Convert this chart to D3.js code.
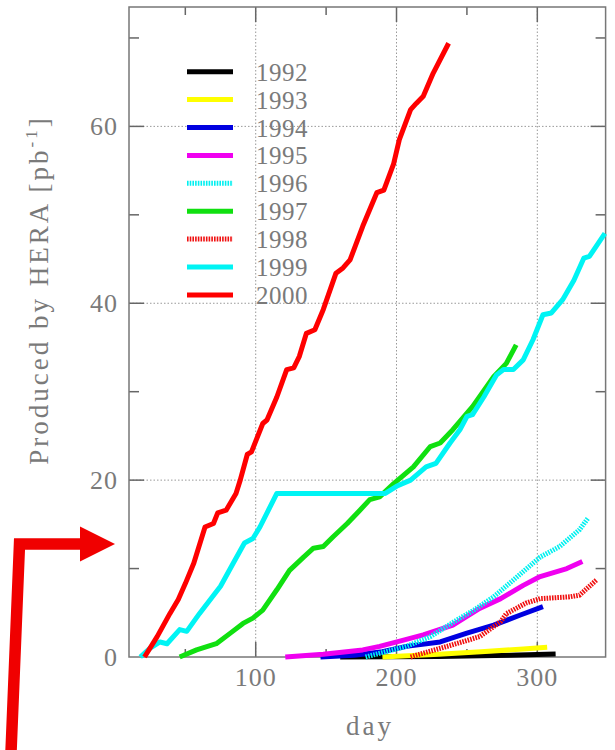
<!DOCTYPE html>
<html lang="en">
<head>
    <meta charset="UTF-8">
    <title>HERA luminosity per year</title>
    <style>
        body {
            margin: 0;
            padding: 0;
            background: #fff;
        }
        svg text {
            font-family: "Liberation Serif", "DejaVu Serif", serif;
            fill: #7a7a7a;
        }
        .grid line {
            stroke: #999;
            stroke-width: 1;
            stroke-dasharray: 1.5, 2;
        }
        .frame {
            fill: none;
            stroke: #777;
            stroke-width: 1.5;
        }
        .tick-mark {
            stroke: #666;
            stroke-width: 1.5;
        }
        .series {
            fill: none;
            stroke-width: 5;
            stroke-linejoin: round;
            stroke-linecap: butt;
        }
    </style>
</head>
<body>
<svg id="chart" width="615" height="750"></svg>

<script src="https://d3js.org/d3.v7.min.js"></script>
<script>
    // integrated luminosity [pb^-1] vs day of year
    var years = ["1992", "1993", "1994", "1995", "1996", "1997", "1998", "1999", "2000"];

    var data1992 = [[160, 0], [230, 0.05], [280, 0.2], [313, 0.35]];
    var data1993 = [[190, 0], [230, 0.3], [260, 0.6], [290, 0.9], [307, 1.1]];
    var data1994 = [[146, 0], [170, 0.2], [190, 0.6], [207, 1.2], [231, 1.7], [250, 2.7], [269, 3.6], [288, 4.75], [304, 5.7]];
    var data1995 = [[121, 0], [148, 0.3], [176, 0.8], [188, 1.2], [205, 1.9], [219, 2.5], [240, 3.6], [259, 5.5],
        [274, 6.6], [290, 8.1], [302, 9.1], [321, 10.0], [332, 10.8]];
    var data1996 = [[178, 0], [190, 0.5], [207, 1.2], [224, 2.3], [243, 4.2], [255, 5.3], [269, 6.8], [283, 8.7],
        [302, 11.3], [316, 12.5], [330, 14.4], [336, 15.7]];
    var data1997 = [[46, 0], [58, 0.8], [72, 1.5], [82, 2.7], [91, 3.8], [98, 4.4], [105, 5.3], [115, 7.6], [124, 9.8],
        [134, 11.3], [141, 12.3], [148, 12.5], [155, 13.6], [165, 15.1], [174, 16.6], [181, 17.8], [188, 18.1],
        [198, 19.6], [212, 21.5], [224, 23.8], [231, 24.2], [240, 25.7], [254, 28.3], [269, 31.7], [278, 33.2], [285, 35.3]];
    var data1998 = [[210, 0], [214, 0.2], [236, 1.2], [259, 2.3], [274, 4.0], [278, 4.9], [292, 6.1], [302, 6.6],
        [323, 6.8], [330, 7.0], [342, 8.7]];
    var data1999 = [[18, 0], [25, 1.0], [32, 1.7], [37, 1.5], [46, 3.1], [51, 2.9], [60, 4.9], [75, 8.0], [84, 10.6],
        [92, 12.9], [98, 13.4], [103, 14.7], [115, 18.5], [192, 18.5], [200, 19.3], [210, 20.0], [221, 21.5],
        [228, 21.9], [238, 24.2], [245, 25.7], [250, 27.2], [254, 27.4], [262, 29.4], [271, 31.9], [276, 32.5],
        [283, 32.5], [290, 33.6], [297, 35.9], [304, 38.7], [310, 38.9], [318, 40.4], [326, 42.6], [333, 45.1],
        [337, 45.3], [348, 47.9]];
    var data2000 = [[21, 0], [30, 2.3], [39, 4.9], [45, 6.5], [50, 8.3], [56, 10.6], [64, 14.7], [70, 15.1], [73, 16.3],
        [79, 16.6], [86, 18.5], [89, 20.0], [94, 22.9], [97, 23.2], [105, 26.4], [108, 26.8], [115, 29.4], [122, 32.5],
        [127, 32.7], [131, 34.0], [136, 36.6], [142, 37.0], [148, 39.3], [157, 43.4], [162, 44.0], [167, 44.9],
        [176, 48.7], [186, 52.5], [191, 52.8], [198, 55.8], [202, 58.5], [210, 61.9], [214, 62.6], [219, 63.4],
        [226, 66.0], [237, 69.4]];

    var seriesData = [data1992, data1993, data1994, data1995, data1996, data1997, data1998, data1999, data2000];

    var xMajor = [100, 200, 300];
    var xMinor = [50, 150, 250];
    var yMajor = [0, 20, 40, 60];
    var yMinor = [10, 30, 50, 70];

    // styling
    var colors = ["#000000", "#ffff00", "#0000e0", "#f000f0", "#00f0f0", "#10e010", "#f01010", "#00f4f4", "#ff0000"];
    var dashes = [null, null, null, null, "1.6,1.1", null, "1.6,1.1", null, null];

    var plotL = 129, plotR = 605.6, plotT = 7, plotB = 657;

    var svg = d3.select("#chart");

    var x = d3.scaleLinear().domain([10, 348.5]).range([plotL, plotR]);
    var y = d3.scaleLinear().domain([0, 73.5]).range([plotB, plotT]);

    // grid
    var grid = svg.append("g").attr("class", "grid");
    grid.selectAll(".gx")
        .data(xMajor)
        .enter().append("line")
        .attr("x1", d => x(d)).attr("x2", d => x(d))
        .attr("y1", plotT).attr("y2", plotB);
    grid.selectAll(".gy")
        .data(yMajor.filter(d => d > 0))
        .enter().append("line")
        .attr("x1", plotL).attr("x2", plotR)
        .attr("y1", d => y(d)).attr("y2", d => y(d));

    // inward ticks on all four sides
    var ticks = svg.append("g");
    function tickSet(vals, len, horizontal) {
        vals.forEach(function (v) {
            if (horizontal) {
                ticks.append("line").attr("class", "tick-mark")
                    .attr("x1", x(v)).attr("x2", x(v)).attr("y1", plotB).attr("y2", plotB - len);
                ticks.append("line").attr("class", "tick-mark")
                    .attr("x1", x(v)).attr("x2", x(v)).attr("y1", plotT).attr("y2", plotT + len);
            } else {
                ticks.append("line").attr("class", "tick-mark")
                    .attr("x1", plotL).attr("x2", plotL + len).attr("y1", y(v)).attr("y2", y(v));
                ticks.append("line").attr("class", "tick-mark")
                    .attr("x1", plotR).attr("x2", plotR - len).attr("y1", y(v)).attr("y2", y(v));
            }
        });
    }
    tickSet(xMajor, 15, true);
    tickSet(xMinor, 8, true);
    tickSet(yMajor.filter(d => d > 0), 15, false);
    tickSet(yMinor, 10, false);

    svg.append("rect").attr("class", "frame")
        .attr("x", plotL).attr("y", plotT)
        .attr("width", plotR - plotL).attr("height", plotB - plotT);

    // tick labels
    svg.selectAll(".xlab")
        .data(xMajor)
        .enter().append("text")
        .attr("x", d => x(d))
        .attr("y", 686)
        .attr("text-anchor", "middle")
        .attr("font-size", 26)
        .attr("letter-spacing", 1)
        .text(d => d);

    svg.selectAll(".ylab")
        .data(yMajor)
        .enter().append("text")
        .attr("x", 118)
        .attr("y", d => y(d) + 9)
        .attr("text-anchor", "end")
        .attr("font-size", 26)
        .attr("letter-spacing", 1)
        .text(d => d);

    // axis titles
    svg.append("text")
        .attr("x", 370).attr("y", 735)
        .attr("text-anchor", "middle")
        .attr("font-size", 27)
        .attr("letter-spacing", 3)
        .text("day");

    var yt = svg.append("text")
        .attr("transform", "translate(48,290) rotate(-90)")
        .attr("text-anchor", "middle")
        .attr("font-size", 27)
        .attr("letter-spacing", 3);
    yt.append("tspan").text("Produced by HERA [pb");
    yt.append("tspan").attr("font-size", 17).attr("dy", -11).text("-1");
    yt.append("tspan").attr("dy", 11).text("]");

    // curves
    var line = d3.line().x(d => x(d[0])).y(d => y(d[1]));
    svg.selectAll(".series")
        .data(seriesData)
        .enter().append("path")
        .attr("class", "series")
        .attr("stroke", (d, i) => colors[i])
        .attr("stroke-dasharray", (d, i) => dashes[i])
        .attr("d", line);

    // legend
    var legend = svg.append("g");
    years.forEach(function (yr, i) {
        var ly = 71.7 + i * 27.9;
        legend.append("line")
            .attr("x1", 187).attr("x2", 233)
            .attr("y1", ly).attr("y2", ly)
            .attr("stroke", colors[i])
            .attr("stroke-width", 5)
            .attr("stroke-dasharray", dashes[i]);
        legend.append("text")
            .attr("x", 256)
            .attr("y", ly + 9)
            .attr("font-size", 25)
            .attr("letter-spacing", 0.5)
            .text(yr);
    });

    // red annotation arrow at the left
    svg.append("path")
        .attr("d", "M11,752 L19.5,544 L84,544")
        .attr("fill", "none")
        .attr("stroke", "#f00000")
        .attr("stroke-width", 11.5)
        .attr("stroke-linejoin", "miter");
    svg.append("path")
        .attr("d", "M80,526.5 L115,544 L80,561.5 Z")
        .attr("fill", "#f00000");
</script>
</body>
</html>
